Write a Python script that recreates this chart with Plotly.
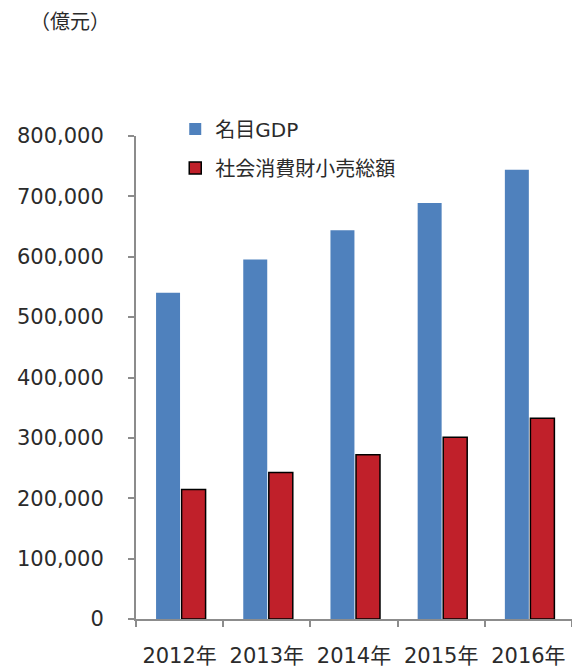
import plotly.graph_objects as go

years = ["2012年", "2013年", "2014年", "2015年", "2016年"]
gdp = [540367, 595244, 643974, 689052, 744127]
retail = [214433, 242843, 271896, 300931, 332316]
tick_vals = [0, 100000, 200000, 300000, 400000, 500000, 600000, 700000, 800000]
tick_text = ["0", "100,000", "200,000", "300,000", "400,000", "500,000", "600,000", "700,000", "800,000"]

FONT = "DejaVu Sans, Noto Sans CJK JP, sans-serif"
TXT = "#2b2b2b"

fig = go.Figure()
fig.add_trace(go.Bar(
    x=years, y=gdp, name="名目GDP", legendgroup="a",
    marker=dict(color="#4F81BD", line=dict(width=0)),
    width=0.275, offset=-0.27,
))
fig.add_trace(go.Bar(
    x=years, y=retail, name="社会消費財小売総額", legendgroup="b",
    marker=dict(color="#C0202A", line=dict(color="#000000", width=1.5)),
    width=0.275, offset=0.023,
))

fig.update_layout(
    width=572, height=667,
    margin=dict(l=136, r=0, t=136, b=48),
    paper_bgcolor="white", plot_bgcolor="white",
    font=dict(family=FONT, size=20, color=TXT),
    barmode="group",
    showlegend=True,
    legend=dict(
        x=0.09, y=1.055, xanchor="left", yanchor="top",
        bgcolor="rgba(0,0,0,0)", traceorder="grouped", tracegroupgap=10,
        font=dict(family=FONT, size=20, color=TXT),
    ),
    annotations=[dict(
        text="（億元）", xref="paper", yref="paper",
        x=(70 - 136) / 436, y=1 + (136 - 22) / 483,
        xanchor="center", yanchor="middle", showarrow=False,
        font=dict(family=FONT, size=20, color=TXT),
    )],
)
fig.update_xaxes(
    type="category", showline=True, linecolor="#8C8C8C", linewidth=2,
    ticks="outside", tickson="boundaries", ticklen=6, tickcolor="#8C8C8C", tickwidth=1.5,
    showgrid=False, ticklabelstandoff=17,
    tickfont=dict(family=FONT, size=21, color=TXT),
)
fig.update_yaxes(
    range=[0, 800000], tickvals=tick_vals, ticktext=tick_text,
    showline=True, linecolor="#8C8C8C", linewidth=2,
    ticks="outside", ticklen=6, tickcolor="#8C8C8C", tickwidth=1.5,
    showgrid=False, zeroline=False, ticklabelstandoff=20,
    tickfont=dict(family=FONT, size=21, color=TXT),
)

fig.write_html("out.html")
